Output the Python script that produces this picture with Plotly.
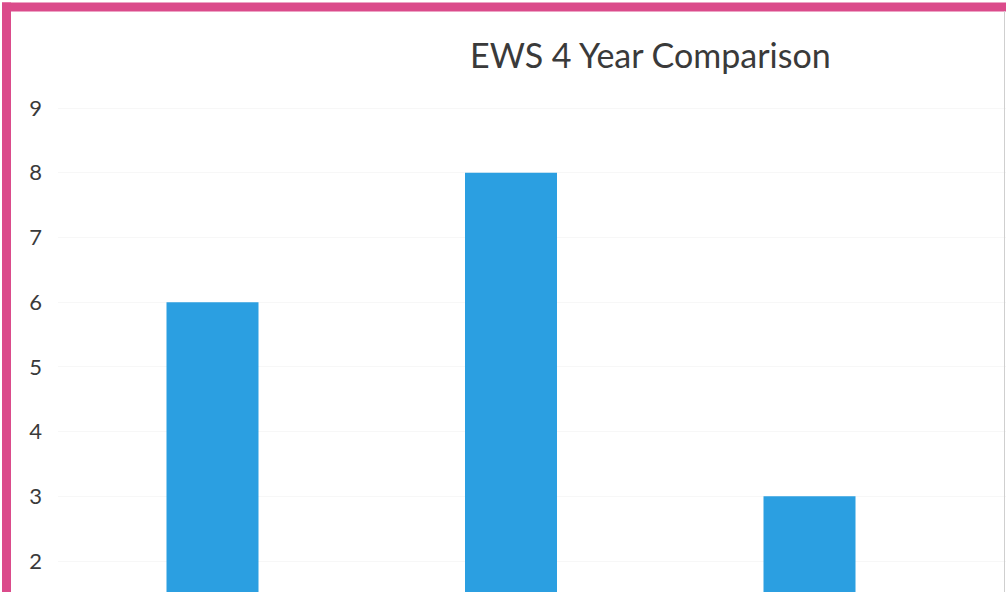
import plotly.graph_objects as go

# Chart data
categories = ["Year 1", "Year 2", "Year 3"]
values = [6, 8, 3]
y_ticks = [2, 3, 4, 5, 6, 7, 8, 9]
title_text = "EWS 4 Year Comparison"

W, H = 1006, 592
ML = 58  # left margin (px) holding the y tick labels
PW = W - ML

BAR_BLUE = "#2b9fe1"
PINK = "#db4b8b"
TEXT = "#3a3a3a"
FONT = "Lato, 'Open Sans', sans-serif"

fig = go.Figure(
    go.Bar(
        x=list(range(len(categories))),
        y=values,
        marker=dict(color=BAR_BLUE, line=dict(width=0)),
        hovertext=categories,
        hoverinfo="text+y",
    )
)


def px_to_paper_x(px):
    return (px - ML) / PW


def px_to_paper_y(py):
    return 1 - py / H


# Pink frame along the top and left edges, thin grey edge on the right
fig.add_shape(type="rect", xref="paper", yref="paper",
              x0=px_to_paper_x(2), x1=px_to_paper_x(W + 2),
              y0=px_to_paper_y(11.5), y1=px_to_paper_y(2.5),
              fillcolor=PINK, line=dict(width=0), layer="above")
fig.add_shape(type="rect", xref="paper", yref="paper",
              x0=px_to_paper_x(2), x1=px_to_paper_x(11),
              y0=px_to_paper_y(H + 2), y1=px_to_paper_y(2.5),
              fillcolor=PINK, line=dict(width=0), layer="above")
fig.add_shape(type="line", xref="paper", yref="paper",
              x0=px_to_paper_x(1004.5), x1=px_to_paper_x(1004.5),
              y0=px_to_paper_y(H), y1=px_to_paper_y(11),
              line=dict(color="#cfcfcf", width=1), layer="above")

fig.add_annotation(
    text=title_text, xref="paper", yref="paper",
    x=px_to_paper_x(650), y=px_to_paper_y(55),
    xanchor="center", yanchor="middle", showarrow=False,
    font=dict(family=FONT, size=34, color=TEXT),
)

# category centres sit ~298.5 px apart, first at x=212.5 px
step = 298.5
c0 = 212.5
fig.update_xaxes(
    range=[-(c0 - ML) / step, (W - c0) / step],
    showticklabels=False, showgrid=False, zeroline=False, showline=False,
    fixedrange=True,
)
# 9 at y=108 px, 2 at y=561 px
unit = (561 - 108) / 7
fig.update_yaxes(
    range=[2 - (H - 561) / unit, 9 + 108 / unit],
    tickvals=y_ticks, ticktext=[str(v) for v in y_ticks],
    tickfont=dict(family=FONT, size=22, color=TEXT),
    showgrid=True, gridcolor="#f7f7f7", gridwidth=1,
    zeroline=False, showline=False, ticks="",
    ticklabelstandoff=15,
)

fig.update_layout(
    width=W, height=H,
    margin=dict(l=ML, r=0, t=0, b=0, pad=0),
    paper_bgcolor="white", plot_bgcolor="white",
    bargap=1 - 92 / step,
    showlegend=False,
)

fig.write_html("out.html")
